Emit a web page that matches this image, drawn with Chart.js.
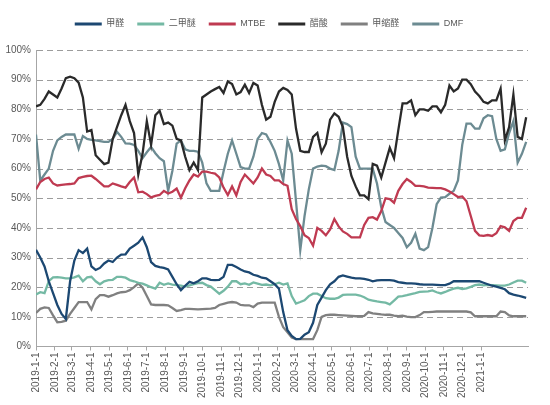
<!DOCTYPE html>
<html>
<head>
<meta charset="utf-8">
<script src="https://cdn.jsdelivr.net/npm/chart.js@4.4.0/dist/chart.umd.min.js"></script>
<style>
  html, body { margin: 0; background: #fff; }
  #wrap { width: 550px; height: 405px; }
</style>
</head>
<body>
<div id="wrap"><canvas id="chart"></canvas></div>
<script>
// ---------- 数据（周度，%） ----------
const monthLabels = [
  '2019-1-1', '2019-2-1', '2019-3-1', '2019-4-1', '2019-5-1', '2019-6-1', '2019-7-1',
  '2019-8-1', '2019-9-1', '2019-10-1', '2019-11-1', '2019-12-1', '2020-1-1', '2020-2-1',
  '2020-3-1', '2020-4-1', '2020-5-1', '2020-6-1', '2020-7-1', '2020-8-1', '2020-9-1',
  '2020-10-1', '2020-11-1', '2020-12-1', '2021-1-1'
];

const formaldehyde = [
  32.6, 30, 27, 22, 18, 14, 11, 9.3, 22, 29, 32.5, 31.5, 33, 27, 25.8, 26.5, 28, 29, 28.5, 30, 31, 31.1, 33, 34,
  35, 36.8, 33.5, 28.5, 27.2, 26.8, 26.5, 26, 23.5, 21, 19, 20.5, 21.8, 21.3, 22, 23, 23, 22.5, 22.4, 22.5, 23.5, 27.5, 27.5,
  26.8, 26, 25.3, 25, 24.2, 23.8, 23.2, 23, 22, 21, 19.5, 11.6, 5.5, 3.6, 2.5, 2.6, 4, 4.8, 8, 14, 16.5, 19, 21, 22,
  23.5, 24, 23.6, 23.2, 23, 23, 22.8, 22.5, 22, 22.3, 22.4, 22.4, 22.4, 22.2, 21.7, 21.5, 21.3, 21.3, 21.2, 21, 20.9, 20.9, 20.9,
  20.8, 20.7, 20.7, 21.2, 22, 22, 22, 22, 22, 22, 22, 21.5, 21, 20.5, 20.2, 19.8, 19.3, 18, 17.5, 17.2, 16.8, 16.4
];
const dme = [
  17.5, 18.3, 18, 22, 23.3, 23.4, 23.2, 23, 23, 23.3, 23.9, 22, 23.3, 23.5, 22, 21, 22, 22.4, 22.5, 23.5, 23.5, 23.2, 22.4, 22,
  21.5, 21.2, 20.6, 20, 19.5, 21.5, 20.8, 21.3, 20.9, 20.7, 20.5, 20.2, 20.6, 21, 21.4, 21.5, 20.7, 20.2, 19, 17.8, 18.8, 20.2, 22,
  22, 21, 21.3, 20.8, 21.6, 21.2, 20.8, 20.9, 20.6, 21, 21.5, 20.9, 21.3, 17, 14.5, 15, 15.6, 17, 17.8, 17.8, 17, 16.3, 16.1, 16.1,
  16.5, 17.4, 17.5, 17.5, 17.5, 17.2, 16.6, 15.8, 15.5, 15.2, 15, 14.8, 14.2, 15.5, 16.8, 17, 17.3, 17.7, 18, 18.4, 18.5, 18.6, 18.9,
  18.3, 17.9, 18.4, 19, 19.5, 19.8, 19.4, 19.6, 20.1, 20.7, 20.9, 20.6, 20.8, 20.7, 20.6, 20.5, 20.5, 20.9, 21.6, 22.2, 22.2, 21.5
];
const mtbe = [
  53, 55.5, 56.5, 57, 55, 54.3, 54.5, 54.7, 54.8, 55, 56.8, 57.2, 57.5, 57.6, 56.5, 55.3, 54, 54, 55, 54.5, 54, 53.6, 55.5, 57,
  52, 52.2, 51.4, 50.3, 50.8, 51.1, 52.5, 51.6, 52.2, 53.3, 50.2, 53.4, 56, 58, 57.3, 59, 59, 58.6, 58.3, 57, 53.6, 51.1, 54,
  51, 55.5, 58, 56.5, 55, 57, 60, 58, 57.5, 56, 56, 54.8, 54.2, 46.3, 43, 40.6, 37.5, 36.6, 34, 40, 39, 37.5, 39.5, 43,
  40.5, 38.8, 38, 36.8, 36.8, 36.8, 41, 43.4, 43.6, 42.8, 45.7, 50, 49.7, 48.5, 52.5, 54.8, 56.5, 55.5, 54.2, 54.2, 54, 53.6, 53.5,
  53.4, 53.4, 53, 52.3, 51.4, 50.4, 50.6, 49, 44, 39, 37.5, 37.3, 37.6, 37.3, 38.2, 40.6, 40.2, 39, 42.3, 43.4, 43.4, 46.8
];
const aceticAcid = [
  81, 81.5, 83.5, 86, 85, 84, 87, 90.5, 91, 90.5, 89, 84, 72.5, 73, 64.5, 63, 61.5, 62, 70, 74, 78, 81.5, 76, 72,
  58, 65, 76, 68, 78, 79.5, 75, 75.5, 74.5, 70, 69.5, 64, 59.5, 62, 59.5, 84, 85, 86, 86.8, 87.5, 85.5, 89.4, 88.5,
  85, 85.8, 88.3, 85.5, 88.9, 88, 81.5, 76.5, 77.5, 82.5, 86, 87.2, 86.5, 85, 73.5, 66, 65.6, 65.6, 70.7, 72, 65.5, 68.4, 76.5, 78.6,
  77.5, 74, 64, 57.5, 54, 51, 51, 49.7, 61.6, 61, 57, 62, 67, 63.5, 73, 82, 82, 83, 78, 80, 80, 79.5, 81,
  81, 79, 81.5, 88, 86, 87, 90, 90, 88.5, 86, 84.5, 82.5, 82, 83, 83, 87, 69.5, 74, 85, 70.7, 70, 77.3
];
const methylal = [
  11.3, 12.7, 13.2, 13, 10.5, 8.2, 8.3, 8.7, 11, 13, 15, 15, 15, 12.5, 16, 17.3, 17.3, 16.8, 17.3, 17.9, 18.3, 18.4, 19, 20,
  21.3, 19.8, 17, 14.2, 14, 14, 14, 13.9, 13, 12, 12.3, 12.7, 12.7, 12.6, 12.5, 12.6, 12.7, 12.8, 13, 14, 14.4, 14.8, 15,
  14.8, 14, 13.9, 13.9, 13.3, 14.5, 14.8, 14.8, 14.8, 14.8, 10, 6.5, 4.8, 3, 2.5, 2.5, 2.5, 2.5, 2.5, 5.5, 10, 10.6, 10.7, 10.7,
  10.6, 10.5, 10.4, 10.3, 10.2, 10.2, 10.3, 11.6, 11.2, 11, 10.8, 10.7, 10.7, 10.4, 10.2, 10.4, 10.1, 9.9, 9.9, 10.6, 11.6, 11.6, 11.7,
  11.8, 11.8, 11.8, 11.8, 11.8, 11.8, 11.8, 11.8, 11.5, 10.2, 10.2, 10.2, 10.2, 10.2, 10.2, 11.8, 11.6, 10.5, 10.2, 10.2, 10.2, 10.2
];
const dmf = [
  71.5, 56, 58, 60, 66, 69.5, 70.7, 71.5, 71.5, 71.5, 66.7, 71, 70, 69.7, 69.5, 69.3, 69, 69, 70, 72.4, 70.7, 68.5, 68.4, 68,
  66, 63.5, 65.5, 67.3, 65.2, 63.5, 62.5, 52.5, 59.3, 68.4, 69.5, 66.5, 66, 66, 65.7, 62, 55, 52.5, 52.5, 52.5, 59, 65, 69.5,
  65, 60.5, 60, 60, 64, 70, 72, 71.5, 69, 66, 61.5, 56, 69.5, 65, 49, 32.5, 44, 53, 60, 60.7, 61, 60.8, 60, 59.5,
  66, 75.5, 75, 74, 64, 60, 60, 60, 60, 55, 47, 42, 41, 40, 38.3, 36.6, 33.5, 35, 38, 33, 32.5, 33.5, 40,
  48, 50.2, 50.4, 51.5, 52.5, 56, 68, 75.2, 75.2, 73.5, 73.5, 77, 78, 77.7, 70, 66, 66.5, 72, 76, 62, 65, 69
];

// ---------- 日期轴（以 2019-1-1 起算的天数） ----------
const DAY = 86400000;
const start = Date.UTC(2019, 0, 1);
const toDay = s => { const [y, m, d] = s.split('-').map(Number); return (Date.UTC(y, m - 1, d) - start) / DAY; };
const monthDays = monthLabels.map(toDay);
const weekDays = formaldehyde.map((_, i) => i * 7);
const pts = arr => arr.map((v, i) => ({ x: weekDays[i], y: v }));

const series = [
  { label: '甲醛',   data: formaldehyde, color: '#1c4872' },
  { label: '二甲醚', data: dme,          color: '#74b9a4' },
  { label: 'MTBE',   data: mtbe,         color: '#bf3a51' },
  { label: '醋酸',   data: aceticAcid,   color: '#2a2a2a' },
  { label: '甲缩醛', data: methylal,     color: '#808080' },
  { label: 'DMF',    data: dmf,          color: '#6c8b92' }
];

Chart.defaults.font.family = '"Liberation Sans", "Noto Sans CJK SC", sans-serif';
Chart.defaults.color = '#595959';

// 图例：下方留白 + 略向右移
const legendTweak = {
  id: 'legendTweak',
  beforeInit(chart) {
    const lg = chart.legend;
    const fit = lg.fit, draw = lg.draw;
    lg.fit = function () { fit.call(this); this.height += 11.5; };
    lg.draw = function () {
      this.ctx.save();
      this.ctx.translate(5, 0);
      draw.call(this);
      this.ctx.restore();
    };
  }
};

// 虚线网格（横向）
const dashedGrid = {
  id: 'dashedGrid',
  beforeDatasetsDraw(chart) {
    const { ctx, chartArea: a, scales: { y } } = chart;
    ctx.save();
    ctx.strokeStyle = '#9c9c9c';
    ctx.lineWidth = 1;
    ctx.setLineDash([6, 4]);
    y.ticks.forEach(t => {
      if (t.value === 0) return;
      const py = Math.round(y.getPixelForValue(t.value)) + 0.5;
      ctx.beginPath();
      ctx.moveTo(a.left + 1, py);
      ctx.lineTo(a.right, py);
      ctx.stroke();
    });
    ctx.restore();
  }
};

new Chart(document.getElementById('chart'), {
  type: 'line',
  data: {
    datasets: series.map(s => ({
      label: s.label,
      data: pts(s.data),
      borderColor: s.color,
      backgroundColor: s.color,
      borderWidth: 2.3,
      pointRadius: 0,
      tension: 0,
      fill: false
    }))
  },
  options: {
    responsive: true, maintainAspectRatio: false,
    animation: false,
    layout: { padding: { top: 6.5, right: 22, left: 0, bottom: 0 } },
    plugins: {
      legend: {
        position: 'top',
        labels: {
          boxWidth: 27, boxHeight: 3, padding: 13,
          font: { size: 9 }, color: '#595959',
          generateLabels: chart => Chart.defaults.plugins.legend.labels.generateLabels(chart)
            .map(l => ({ ...l, lineWidth: 0 }))
        }
      },
      tooltip: { enabled: false }
    },
    scales: {
      x: {
        type: 'linear', min: 0, max: 808,
        afterBuildTicks: axis => { axis.ticks = monthDays.map(v => ({ value: v })); },
        afterFit: axis => { axis.height = 58.5; },
        ticks: {
          autoSkip: false, minRotation: 90, maxRotation: 90, padding: 2,
          font: { size: 10 }, color: '#595959',
          callback: (v, i) => monthLabels[i]
        },
        grid: { display: true, drawOnChartArea: false, drawTicks: true, tickLength: 4, color: '#a6a6a6' },
        border: { display: true, color: '#a6a6a6', width: 1 }
      },
      y: {
        min: 0, max: 100,
        afterFit: axis => { axis.width = 36; },
        ticks: { stepSize: 10, padding: 5, font: { size: 10 }, color: '#595959', callback: v => v + '%' },
        grid: { display: false, drawTicks: false },
        border: { display: true, color: '#a6a6a6' }
      }
    }
  },
  plugins: [legendTweak, dashedGrid]
});
</script>
</body>
</html>
